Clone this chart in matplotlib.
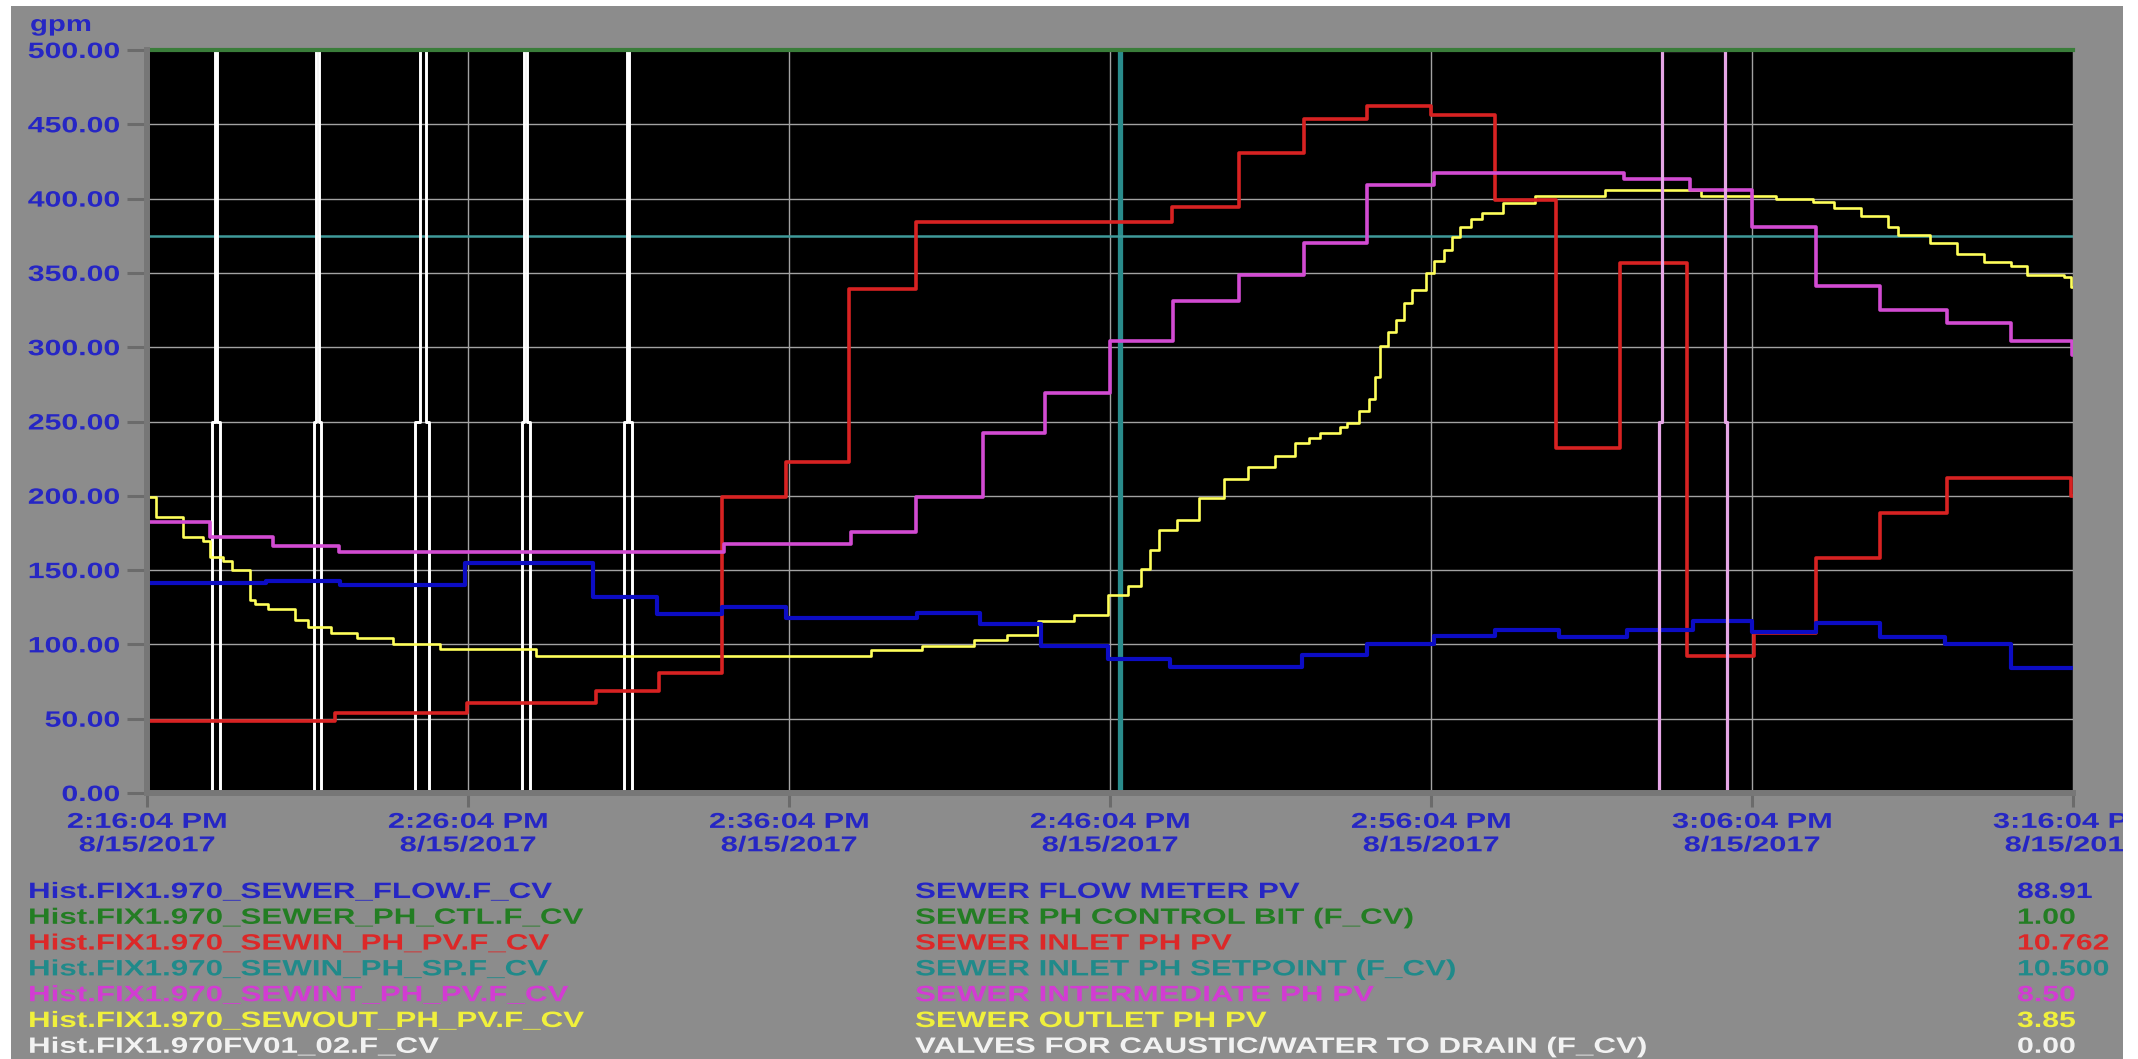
import matplotlib
matplotlib.use("Agg")
import matplotlib.pyplot as plt
from matplotlib.patches import Rectangle
from matplotlib.patheffects import AbstractPathEffect
from matplotlib.transforms import Affine2D

W, H = 2138, 1059

# all times are minutes after 2:16:04 PM
flow_t = [0, 3.7, 6.0, 9.9, 13.9, 15.9, 17.9, 19.9, 24.0, 25.96, 27.84, 29.93, 31.87,
          35.98, 38.0, 40.08, 42.0, 44.0, 46.1, 48.16, 50.0, 52.0, 54.0, 56.0, 58.06, 60]
flow_v = [141.5, 142.5, 140, 155, 132, 120.5, 125.5, 118, 121, 114, 99, 90, 85,
          93, 100, 105.5, 110, 105, 110, 115.5, 108.5, 114.5, 105, 100, 84, 84]

ctl_t = [0, 60]
ctl_v = [500, 500]

inlet_t = [0, 5.86, 9.96, 14.0, 15.95, 17.9, 19.9, 21.86, 23.95, 31.94, 34.03, 36.05,
           38.0, 40.0, 42.0, 43.9, 45.9, 47.99, 50.07, 51.98, 54.0, 56.07, 59.95, 60]
inlet_v = [48.5, 54, 60.5, 68.5, 80.5, 199.5, 223, 339, 384.5, 394.5, 430.5, 453.5,
           462.5, 456.5, 399, 232, 356.5, 92, 108, 158, 188.5, 212, 200, 200]

setpoint_t = [0, 60]
setpoint_v = [375, 375]
cursor_t = 30.3

inter_t = [0, 1.96, 3.94, 5.97, 17.96, 21.93, 23.95, 26.03, 27.98, 30.0, 31.97, 34.03,
           36.05, 38.0, 40.08, 46.0, 48.07, 50.0, 52.0, 54.0, 56.07, 58.06, 59.97, 60]
inter_v = [182.5, 172.5, 166.5, 162.5, 167.5, 175.5, 199, 242, 269, 304.5, 331, 348.5,
           370, 409, 417.5, 413, 406, 381, 341, 325, 316.5, 304.5, 295, 295]

outlet_t = [0, 0.29, 1.13, 1.75, 1.96, 2.38, 2.66, 3.21, 3.35, 3.77, 4.6, 5.02, 5.72,
            6.55, 7.66, 9.12, 12.11, 22.55, 24.15, 25.75, 26.8, 27.77, 28.88, 29.93,
            30.55, 30.97, 31.25, 31.53, 32.08, 32.78, 33.54, 34.31, 35.14, 35.77, 36.2,
            36.53, 37.16, 37.37, 37.75, 38.08, 38.25, 38.42, 38.65, 38.92, 39.15, 39.42,
            39.83, 40.1, 40.42, 40.65, 40.91, 41.25, 41.58, 42.25, 43.25, 45.41, 48.4,
            50.74, 51.9, 52.57, 53.4, 54.23, 54.56, 55.56, 56.4, 57.23, 58.06, 58.56,
            59.72, 59.95, 60]
outlet_v = [199.5, 186, 172.5, 169.5, 159, 156, 150, 130, 127, 123.5, 116.5, 112, 107.5,
            104.5, 100, 97, 92, 96.5, 99, 103, 106.5, 115.5, 120, 133.5,
            139, 151, 163.5, 177, 184, 198.5, 211, 219.5, 226.5, 235.5, 239,
            242, 246.5, 249, 257, 265, 280, 300.5, 310, 318.5, 330, 338.5,
            350, 358, 365.5, 374, 381, 386, 390, 397, 401.5, 406, 401.5,
            400, 398, 393.5, 388, 381, 375.5, 370, 363, 357.5, 354.5, 348.5,
            347.5, 340.5, 340.5]

valve_t = [0, 2.03, 2.11, 2.19, 2.27, 5.19, 5.27, 5.35, 5.42, 8.36, 8.50, 8.68, 8.78,
           11.68, 11.76, 11.84, 11.94, 14.87, 14.95, 15.03, 15.12, 60]
valve_v = [0, 250, 500, 250, 0, 250, 500, 250, 0, 250, 500, 250, 0,
           250, 500, 250, 0, 250, 500, 250, 0, 0]
valve_late_t = [47.0, 47.11, 47.21, 49.17, 49.22, 49.4]
valve_late_v = [0, 250, 500, 250, 0, 0]

gpm_ticks = [0, 50, 100, 150, 200, 250, 300, 350, 400, 450, 500]
tick_minutes = [0, 10, 20, 30, 40, 50, 60]
tick_clock = ["2:16:04 PM", "2:26:04 PM", "2:36:04 PM", "2:46:04 PM",
              "2:56:04 PM", "3:06:04 PM", "3:16:04 PM"]
tick_date = "8/15/2017"

tag_names = ["Hist.FIX1.970_SEWER_FLOW.F_CV", "Hist.FIX1.970_SEWER_PH_CTL.F_CV",
             "Hist.FIX1.970_SEWIN_PH_PV.F_CV", "Hist.FIX1.970_SEWIN_PH_SP.F_CV",
             "Hist.FIX1.970_SEWINT_PH_PV.F_CV", "Hist.FIX1.970_SEWOUT_PH_PV.F_CV",
             "Hist.FIX1.970FV01_02.F_CV"]
descriptions = ["SEWER FLOW METER PV", "SEWER PH CONTROL BIT (F_CV)", "SEWER INLET PH PV",
                "SEWER INLET PH SETPOINT (F_CV)", "SEWER INTERMEDIATE PH PV",
                "SEWER OUTLET PH PV", "VALVES FOR CAUSTIC/WATER TO DRAIN (F_CV)"]
current_values = ["88.91", "1.00", "10.762", "10.500", "8.50", "3.85", "0.00"]
text_colors = ["#2626c4", "#237d23", "#dc2828", "#208a8a", "#d23cd2", "#f0f03c", "#f2f2f2"]

GREY = "#8c8c8c"
STRIP = "#777777"
TICK = "#6b6b6b"
AXIS_BLUE = "#2626c4"

plt.rcParams["font.family"] = ["Liberation Sans", "DejaVu Sans"]
plt.rcParams["font.weight"] = "bold"


class Widen(AbstractPathEffect):
    """Stretch glyphs sideways around the left, centre or right of each line."""

    def __init__(self, sx, anchor=0.0):
        super().__init__()
        self.sx = sx
        self.anchor = anchor

    def draw_path(self, renderer, gc, tpath, affine, rgbFace=None):
        x0 = 0.0
        if len(tpath.vertices):
            x0 = self.anchor * tpath.vertices[:, 0].max()
        stretch = Affine2D().translate(-x0, 0).scale(self.sx, 1).translate(x0, 0)
        renderer.draw_path(gc, tpath, stretch + affine, rgbFace)


def fx(px):
    return px / W


def fy(py):
    return 1 - py / H


fig = plt.figure(figsize=(W / 100, H / 100), dpi=100, facecolor="white")
panel = Rectangle((fx(11), 0), fx(2123) - fx(11), fy(6), transform=fig.transFigure,
                  facecolor=GREY, edgecolor="none", zorder=-10)
fig.patches.append(panel)

ax = fig.add_axes([fx(147), fy(793), fx(2073) - fx(147), fy(50) - fy(793)])
ax.set_facecolor("black")
ax.set_xlim(0, 60)
ax.set_ylim(0, 500)
for side in ("top", "right"):
    ax.spines[side].set_visible(False)
for side in ("left", "bottom"):
    ax.spines[side].set_color(STRIP)
    ax.spines[side].set_linewidth(4.3)

ax.set_xticks(tick_minutes)
ax.set_xticklabels([f"{c}\n{tick_date}" for c in tick_clock])
ax.set_yticks(gpm_ticks)
ax.set_yticklabels([f"{v:.2f}" for v in gpm_ticks])
ax.tick_params(axis="both", color=TICK, width=2.2, direction="out", labelcolor=AXIS_BLUE)
ax.tick_params(axis="y", length=14.4, pad=5, labelsize=16)
ax.tick_params(axis="x", length=10, pad=3.6, labelsize=15.5)
for lbl in ax.get_yticklabels():
    lbl.set_path_effects([Widen(1.36, anchor=1.0)])
for lbl in ax.get_xticklabels():
    lbl.set_linespacing(1.15)
    lbl.set_path_effects([Widen(1.43, anchor=0.5)])
    lbl.set_clip_on(True)
    lbl.set_clip_path(panel)

ax.set_axisbelow(True)
ax.grid(True, color="#a2a2a2", linewidth=1.0)

# pens
ax.axvline(cursor_t, color="#2a8c8c", lw=3.8, zorder=1.5)
ax.plot(setpoint_t, setpoint_v, color="#3f9a9a", lw=1.8, zorder=1.6)
ax.plot(valve_t, valve_v, drawstyle="steps-post", color="white", lw=2.1, clip_on=False)
ax.plot(outlet_t, outlet_v, drawstyle="steps-post", color="#ffff5a", lw=1.9)
ax.plot(inlet_t, inlet_v, drawstyle="steps-post", color="#d82222", lw=2.6)
ax.plot(inter_t, inter_v, drawstyle="steps-post", color="#d24bd2", lw=2.6)
ax.plot(flow_t, flow_v, drawstyle="steps-post", color="#0c0cc4", lw=3.0)
ax.plot(valve_late_t, valve_late_v, drawstyle="steps-post", color="#e6a6e6", lw=2.3,
        clip_on=False)
ax.plot(ctl_t, ctl_v, color="#3a7d3a", lw=3.0, clip_on=False)

# engineering unit
fig.text(fx(30), fy(31), "gpm", color=AXIS_BLUE, fontsize=16, va="baseline",
         path_effects=[Widen(1.32)])

# pen legend: tag, description, current value
for i, color in enumerate(text_colors):
    y = fy(898 + i * 25.8)
    fig.text(fx(28), y, tag_names[i], color=color, fontsize=16, va="baseline",
             path_effects=[Widen(1.41)])
    fig.text(fx(915), y, descriptions[i], color=color, fontsize=16, va="baseline",
             path_effects=[Widen(1.41)])
    fig.text(fx(2017), y, current_values[i], color=color, fontsize=16, va="baseline",
             path_effects=[Widen(1.36)])

fig.savefig("out.png", dpi=100, facecolor=fig.get_facecolor())
